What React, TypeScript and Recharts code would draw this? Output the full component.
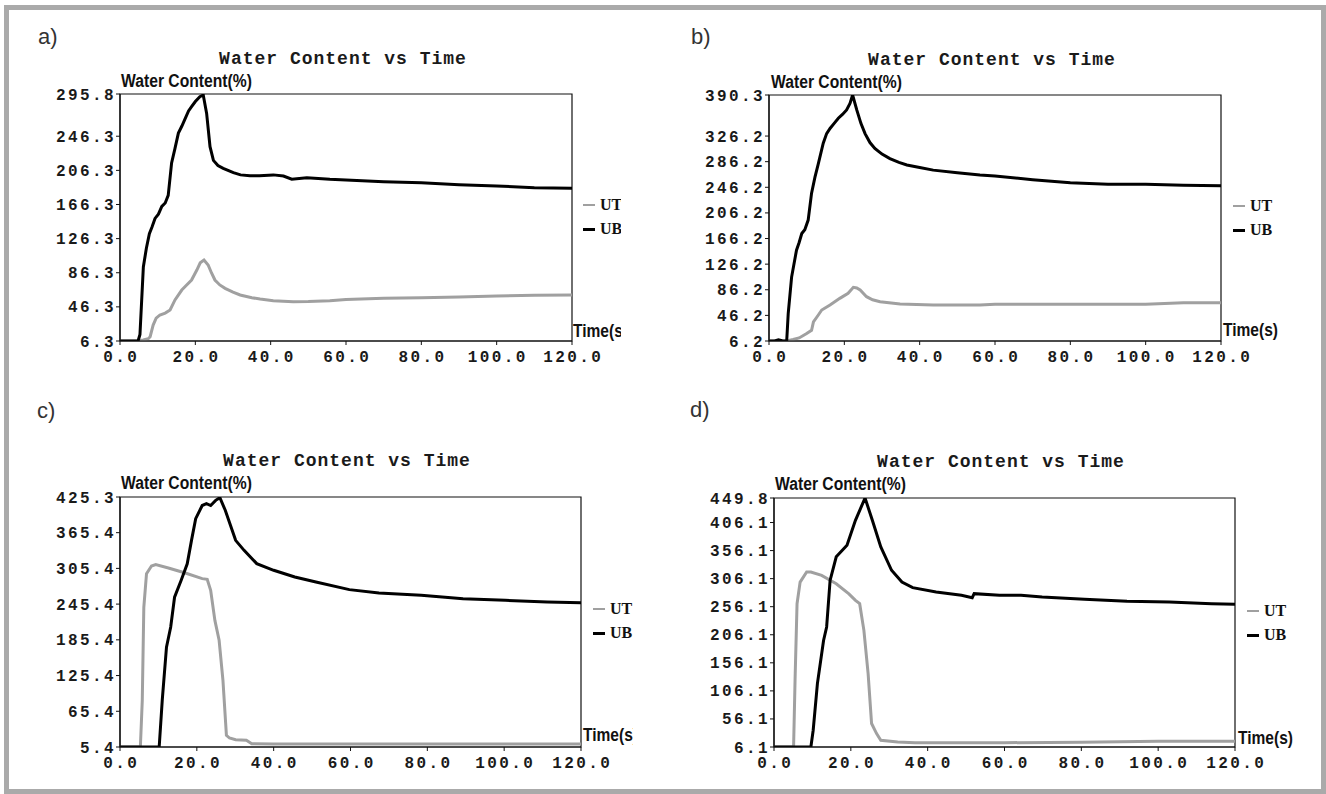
import React from 'react';
import { LineChart, Line, XAxis, YAxis, ReferenceArea, Legend } from 'recharts';

// ---------- shared ----------
const xTicks = [0, 20, 40, 60, 80, 100, 120];
const seriesNames = ['UT', 'UB'];

// ---------- panel a ----------
const aYTicks = [6.3, 46.3, 86.3, 126.3, 166.3, 206.3, 246.3, 295.8];
const aUTTime = [0, 4.4, 6.2, 7.5, 8.0, 8.8, 9.6, 10.6, 12, 13.3, 14.6, 16.4, 17.5, 19, 20.4, 21.3, 22.3, 23.4, 24.3, 25.2, 26.5, 27.9, 30, 31.9, 35, 37.2, 40.7, 46, 50, 55.7, 60, 70, 80, 90, 100, 110, 120];
const aUTValue = [6.3, 6.3, 7.5, 9, 11.3, 25, 33, 36.8, 39, 42.6, 54.4, 66, 71, 77.8, 89.5, 98, 101.2, 95.4, 86, 77.8, 72, 68, 63.5, 60.2, 57, 55.5, 53.5, 52.4, 52.6, 53.5, 55, 56.5, 57, 58, 59, 60, 60.2];
const aUBTime = [0, 2, 4.8, 5.3, 6.2, 7.0, 7.8, 8.5, 9.3, 10.2, 11.1, 12.0, 12.8, 13.7, 14.6, 15.5, 16.4, 17.3, 18.2, 19.0, 20.0, 21.2, 22.1, 23.0, 23.9, 24.8, 26.0, 27.4, 30.1, 32, 34.5, 37, 40.7, 43.4, 45.6, 49.6, 55.7, 60, 70, 80, 90, 100, 110, 120];
const aUBValue = [6.3, 6.3, 6.3, 14, 93, 115, 132, 140, 150, 155, 164, 168, 177, 215, 232, 250, 258, 267, 276, 281, 287, 292.6, 294.6, 273, 234, 218, 212, 208.7, 203.6, 201, 200, 200, 201, 199.7, 196, 197.7, 195.8, 195, 193, 191.8, 189.5, 188, 186, 185.3];

// ---------- panel b ----------
const bYTicks = [6.2, 46.2, 86.2, 126.2, 166.2, 206.2, 246.2, 286.2, 326.2, 390.3];
const bUTTime = [0, 4.7, 6.4, 8, 10, 11.3, 11.8, 13, 14, 16.2, 18.8, 21, 22.4, 23.3, 24.2, 25.9, 27.5, 29.5, 34.8, 43.6, 56, 60, 80, 100, 110, 120];
const bUTValue = [6.2, 6.2, 8.5, 11, 17.8, 23, 36, 46, 54.6, 62.4, 72.8, 80.6, 90, 89, 85.8, 75.4, 70.5, 67.6, 64, 62.4, 62.4, 63.5, 63.5, 63.5, 66, 66];
const bUBTime = [0, 1.5, 2.5, 3.5, 4.7, 5.1, 6.0, 7.3, 8.0, 8.7, 9.5, 10.4, 11.3, 12.2, 13.1, 14.4, 15.3, 16.2, 17.3, 18.4, 19.5, 20.6, 21.5, 22.2, 23.3, 24.4, 25.5, 26.8, 28.1, 30, 32.1, 34.5, 36.6, 40, 43.6, 50, 56, 60, 70, 80, 90, 100, 110, 120];
const bUBValue = [6.2, 6.2, 8, 6.5, 6.2, 49, 106, 148, 160, 174, 180, 195, 237, 262, 283, 315, 330, 338, 346, 354, 360, 367, 377, 390.3, 367, 346, 330, 316, 307, 298, 291, 285, 281, 277, 273, 269, 265.4, 263.8, 258, 253.4, 251, 250.8, 249.5, 248.6];

// ---------- panel c ----------
const cYTicks = [5.4, 65.4, 125.4, 185.4, 245.4, 305.4, 365.4, 425.3];
const cUTTime = [0, 5.3, 5.8, 6.2, 6.9, 8.2, 9.3, 12.6, 17, 21.4, 22.7, 23.6, 24.7, 25.8, 26.8, 27.7, 28.5, 30.1, 32.9, 34.3, 40, 60, 80, 100, 120];
const cUTValue = [5.4, 5.4, 84, 240, 296.5, 309.4, 311.7, 306, 297.7, 288.2, 287, 268.6, 218, 184.6, 117.4, 25, 20.5, 17.7, 16.6, 11, 10.5, 10.5, 10.5, 10.5, 10.5];
const cUBTime = [0, 10.2, 11, 12.1, 13.2, 14.2, 15.9, 17.5, 18.6, 19.7, 21.4, 22.5, 23.6, 24.9, 26, 27.4, 30.1, 32.3, 35.6, 40, 45.5, 51, 59.7, 67.4, 78.4, 89.3, 100.3, 111.2, 120];
const cUBValue = [5.4, 5.4, 84, 173, 207, 257, 285, 313, 352, 389, 411, 414, 411, 419.7, 424.2, 403, 352.5, 335.7, 313.4, 302.2, 291, 282.5, 269.7, 264.1, 260.2, 254.6, 251.8, 249, 247.8];

// ---------- panel d ----------
const dYTicks = [6.1, 56.1, 106.1, 156.1, 206.1, 256.1, 306.1, 356.1, 406.1, 449.8];
const dUTTime = [0, 5.1, 5.5, 6.0, 6.8, 8.5, 9.6, 12.4, 16.2, 19.5, 21.2, 22.3, 23.4, 24.5, 25.4, 26.7, 27.8, 32.2, 36.7, 60, 80, 100, 120];
const dUTValue = [6.1, 6.1, 131, 261.5, 300, 318, 318, 312, 297, 279, 267.5, 261.5, 214, 137, 48, 30, 18, 15, 13.8, 13.8, 14.4, 16.2, 16.2];
const dUBTime = [0, 9.6, 10.2, 11.3, 12.9, 13.7, 14.6, 16.2, 19, 21.2, 23.7, 25.6, 27.8, 30.6, 33.3, 36.1, 42.2, 48.8, 51.6, 52.1, 58.7, 64.3, 69.8, 80.8, 91.9, 102.9, 113.9, 120];
const dUBValue = [6.1, 6.1, 36, 119, 196, 220, 303, 345, 365.5, 410, 449.8, 410, 362.5, 321, 300, 290, 282.3, 276.4, 272.2, 279.3, 276.4, 276.4, 273.4, 269.2, 265.7, 264.5, 261.5, 260.3];

// ---------- text ----------
const titleText = 'Water Content vs Time';
const yAxisTitle = 'Water Content(%)';
const xAxisTitle = 'Time(s)';

const zip = (t: number[], v: number[]) => t.map((x, i) => ({ t: x, v: v[i] }));

type PanelCfg = {
  label: string;
  box: { x: number; y: number; w: number; h: number };
  plot: { l: number; t: number; r: number; b: number };
  yTicks: number[];
  ut: any[];
  ub: any[];
  labelPos: [number, number];
  titlePos: [number, number];
  yTitlePos: [number, number];
  xTitlePos: [number, number];
  legendPos: [number, number];
};

const panels: PanelCfg[] = [
  {
    label: 'a)',
    box: { x: 10, y: 10, w: 611, h: 380 },
    plot: { l: 120, t: 94, r: 572, b: 341 },
    yTicks: aYTicks,
    ut: zip(aUTTime, aUTValue),
    ub: zip(aUBTime, aUBValue),
    labelPos: [38, 44],
    titlePos: [343, 64],
    yTitlePos: [121, 87],
    xTitlePos: [573, 337],
    legendPos: [583, 205],
  },
  {
    label: 'b)',
    box: { x: 660, y: 10, w: 660, h: 380 },
    plot: { l: 769, t: 95, r: 1221, b: 341 },
    yTicks: bYTicks,
    ut: zip(bUTTime, bUTValue),
    ub: zip(bUBTime, bUBValue),
    labelPos: [691, 44],
    titlePos: [992, 65],
    yTitlePos: [771, 88],
    xTitlePos: [1223, 336],
    legendPos: [1233, 206],
  },
  {
    label: 'c)',
    box: { x: 10, y: 395, w: 623, h: 390 },
    plot: { l: 120, t: 497, r: 581, b: 747 },
    yTicks: cYTicks,
    ut: zip(cUTTime, cUTValue),
    ub: zip(cUBTime, cUBValue),
    labelPos: [37, 418],
    titlePos: [347, 466],
    yTitlePos: [121, 489],
    xTitlePos: [583, 741],
    legendPos: [593, 609],
  },
  {
    label: 'd)',
    box: { x: 660, y: 395, w: 660, h: 390 },
    plot: { l: 774, t: 498, r: 1235, b: 747 },
    yTicks: dYTicks,
    ut: zip(dUTTime, dUTValue),
    ub: zip(dUBTime, dUBValue),
    labelPos: [690, 417],
    titlePos: [1001, 467],
    yTitlePos: [775, 490],
    xTitlePos: [1238, 744],
    legendPos: [1247, 611],
  },
];

const tickTextStyle: React.CSSProperties = {
  fontFamily: '"Liberation Mono", "DejaVu Sans Mono", monospace',
  fontSize: '16px',
  fontWeight: 'bold',
  letterSpacing: '2.4px',
};

const XTick = (props: any) => {
  const { x, y, payload } = props;
  return (
    <text x={x + 1.2} y={y} dy={15} textAnchor="middle" fill="#1a1a1a" style={tickTextStyle}>
      {Number(payload.value).toFixed(1)}
    </text>
  );
};

const YTick = (props: any) => {
  const { x, y, payload } = props;
  return (
    <text x={x + 2} y={y} dy={5.5} textAnchor="end" fill="#1a1a1a" style={tickTextStyle}>
      {Number(payload.value).toFixed(1)}
    </text>
  );
};

const renderLegend = (props: any) => {
  const payload = [...(props.payload || [])].sort(
    (a: any, b: any) => seriesNames.indexOf(a.value) - seriesNames.indexOf(b.value)
  );
  return (
    <div>
      {payload.map((p: any) => (
        <div key={p.value} style={{ height: 24, display: 'flex', alignItems: 'center', whiteSpace: 'nowrap' }}>
          <span style={{ display: 'inline-block', width: 12, height: p.value === 'UB' ? 3 : 2.5, background: p.color, marginRight: 5 }} />
          <span style={{ fontFamily: '"Liberation Serif", serif', fontWeight: 'bold', fontSize: 16, color: '#111', lineHeight: '24px' }}>{p.value}</span>
        </div>
      ))}
    </div>
  );
};

function Panel({ cfg }: { cfg: PanelCfg }) {
  const { box, plot } = cfg;
  const YW = 60;
  const XH = 30;
  const margin = {
    left: plot.l - box.x - YW,
    top: plot.t - box.y,
    right: box.x + box.w - plot.r,
    bottom: box.y + box.h - plot.b - XH,
  };
  const yMin = cfg.yTicks[0];
  const yMax = cfg.yTicks[cfg.yTicks.length - 1];
  return (
    <div style={{ position: 'absolute', left: box.x, top: box.y, width: box.w, height: box.h, overflow: 'hidden' }}>
      <LineChart width={box.w} height={box.h} margin={margin}>
        <XAxis
          type="number"
          dataKey="t"
          domain={[0, 120]}
          ticks={xTicks}
          height={XH}
          tickSize={4}
          tickMargin={2}
          tick={<XTick />}
          interval={0}
          axisLine={{ stroke: '#111', strokeWidth: 1.2 }}
          tickLine={{ stroke: '#111' }}
          allowDataOverflow
        />
        <YAxis
          type="number"
          dataKey="v"
          domain={[yMin, yMax]}
          ticks={cfg.yTicks}
          width={YW}
          tickSize={4}
          tickMargin={2}
          tick={<YTick />}
          interval={0}
          axisLine={{ stroke: '#111', strokeWidth: 1.2 }}
          tickLine={{ stroke: '#111' }}
          allowDataOverflow
        />
        <ReferenceArea x1={0} x2={120} y1={yMin} y2={yMax} fill="none" fillOpacity={0} stroke="#111" strokeWidth={1.2} ifOverflow="visible" />
        <Line data={cfg.ut} dataKey="v" name={seriesNames[0]} type="linear" stroke="#a0a0a0" strokeWidth={3} dot={false} activeDot={false} isAnimationActive={false} />
        <Line data={cfg.ub} dataKey="v" name={seriesNames[1]} type="linear" stroke="#000000" strokeWidth={3} dot={false} activeDot={false} isAnimationActive={false} />
        <Legend
          layout="vertical"
          align="center"
          verticalAlign="middle"
          content={renderLegend}
          wrapperStyle={{ left: cfg.legendPos[0] - box.x, top: cfg.legendPos[1] - box.y - 12, width: 'auto', height: 'auto' }}
        />
      </LineChart>
      <svg width={box.w} height={box.h} style={{ position: 'absolute', left: 0, top: 0, pointerEvents: 'none' }}>
        <g transform={`translate(${-box.x},${-box.y})`}>
          <text x={cfg.labelPos[0]} y={cfg.labelPos[1]} fontFamily='"Liberation Sans", Arial, sans-serif' fontSize={22} fill="#333">{cfg.label}</text>
          <text x={cfg.titlePos[0]} y={cfg.titlePos[1]} textAnchor="middle" fontFamily='"Liberation Mono", monospace' fontWeight="bold" fontSize={18} letterSpacing={1} fill="#1a1a1a">{titleText}</text>
          <text x={cfg.yTitlePos[0]} y={cfg.yTitlePos[1]} fontFamily='"Liberation Sans", Arial, sans-serif' fontWeight="bold" fontSize={18} textLength={131} lengthAdjust="spacingAndGlyphs" fill="#111">{yAxisTitle}</text>
          <text x={cfg.xTitlePos[0]} y={cfg.xTitlePos[1]} fontFamily='"Liberation Sans", Arial, sans-serif' fontWeight="bold" fontSize={18} textLength={55} lengthAdjust="spacingAndGlyphs" fill="#111">{xAxisTitle}</text>
        </g>
      </svg>
    </div>
  );
}

export default function App() {
  return (
    <div style={{ position: 'absolute', left: 0, top: 0, width: 1326, height: 794, background: '#fff', overflow: 'hidden' }}>
      <div style={{ position: 'absolute', left: 4, top: 5, width: 1322, height: 789, border: '5px solid #aaaaaa', boxSizing: 'border-box' }} />
      {panels.map((p) => (
        <Panel key={p.label} cfg={p} />
      ))}
    </div>
  );
}
